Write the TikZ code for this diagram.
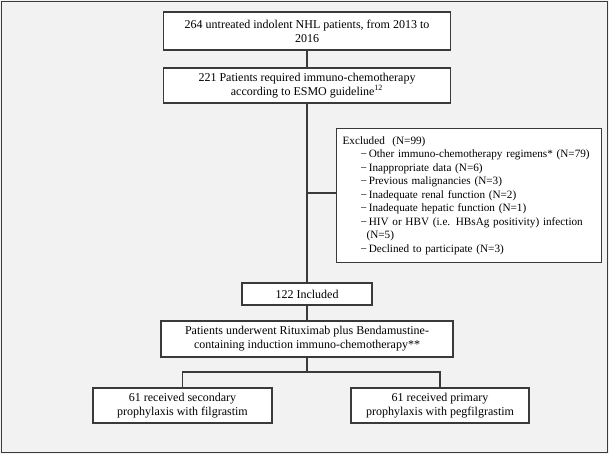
\documentclass[tikz,border=0pt]{standalone}
\usepackage{fontspec}
\setmainfont{Liberation Serif}
\pgfdeclarelayer{background}
\pgfdeclarelayer{connlayer}
\pgfsetlayers{background,connlayer,main}
\begin{document}
\begin{tikzpicture}[x=0.75pt,y=-0.75pt,
  box/.style={draw=linecol,line width=0.9pt,fill=white,align=center,inner sep=0pt,
    font=\fontsize{9}{10.4}\selectfont},
  conn/.style={draw=linecol,line width=1pt}]
\definecolor{linecol}{HTML}{3A3A3A}
\definecolor{bgcol}{HTML}{F2F2F2}
\begin{pgfonlayer}{background}
\fill[bgcol] (0,0) rectangle (609,454);
\draw[linecol,line width=1.1pt] (1.5,1.5) rectangle (607.5,452.5);
\end{pgfonlayer}
\useasboundingbox (0,0) rectangle (609,454);
\node[box,minimum width=287*0.75pt,minimum height=38*0.75pt] (b1) at (307,31)
  {264 untreated indolent NHL patients, from 2013 to\\2016};
\node[box,minimum width=287*0.75pt,minimum height=35*0.75pt] (b2) at (307,85.5)
  {221 Patients required immuno-chemotherapy\\according to ESMO guideline\textsuperscript{12}};
\node[box,font=\fontsize{8.4}{10.15}\selectfont,text width=253*0.75pt,inner xsep=6*0.75pt,
  minimum height=134*0.75pt,align=left,anchor=north west] (ex) at (336,128)
  {Excluded \ (N=99)\\
   \hspace{13.5pt}−\,Other immuno-chemotherapy regimens* (N=79)\\
   \hspace{13.5pt}−\,Inappropriate data (N=6)\\
   \hspace{13.5pt}−\,Previous malignancies (N=3)\\
   \hspace{13.5pt}−\,Inadequate renal function (N=2)\\
   \hspace{13.5pt}−\,Inadequate hepatic function (N=1)\\
   \hspace{13.5pt}−\,HIV or HBV (i.e. HBsAg positivity) infection\\
   \hspace{18pt}(N=5)\\
   \hspace{13.5pt}−\,Declined to participate (N=3)};
\node[box,minimum width=130*0.75pt,minimum height=22*0.75pt] (b3) at (307,294) {122 Included};
\node[box,minimum width=292*0.75pt,minimum height=36*0.75pt] (b4) at (307,339)
  {Patients underwent Rituximab plus Bendamustine-\\containing induction immuno-chemotherapy**};
\node[box,minimum width=179*0.75pt,minimum height=35*0.75pt] (L) at (182.5,405.5)
  {61 received secondary\\prophylaxis with filgrastim};
\node[box,minimum width=178*0.75pt,minimum height=35*0.75pt] (R) at (440,405.5)
  {61 received primary\\prophylaxis with pegfilgrastim};
\coordinate (j) at (307,193);
\coordinate (s) at (307,372);
\begin{pgfonlayer}{connlayer}
\draw[conn] (b1.center) -- (b2.center);
\draw[conn] (b2.center) -- (b3.center);
\draw[conn] (j) -- (j -| ex.west);
\draw[conn] (b3.center) -- (b4.center);
\draw[conn] (b4.south) -- (s);
\draw[conn] (L.north) |- (s) -| (R.north);
\end{pgfonlayer}
\end{tikzpicture}
\end{document}
